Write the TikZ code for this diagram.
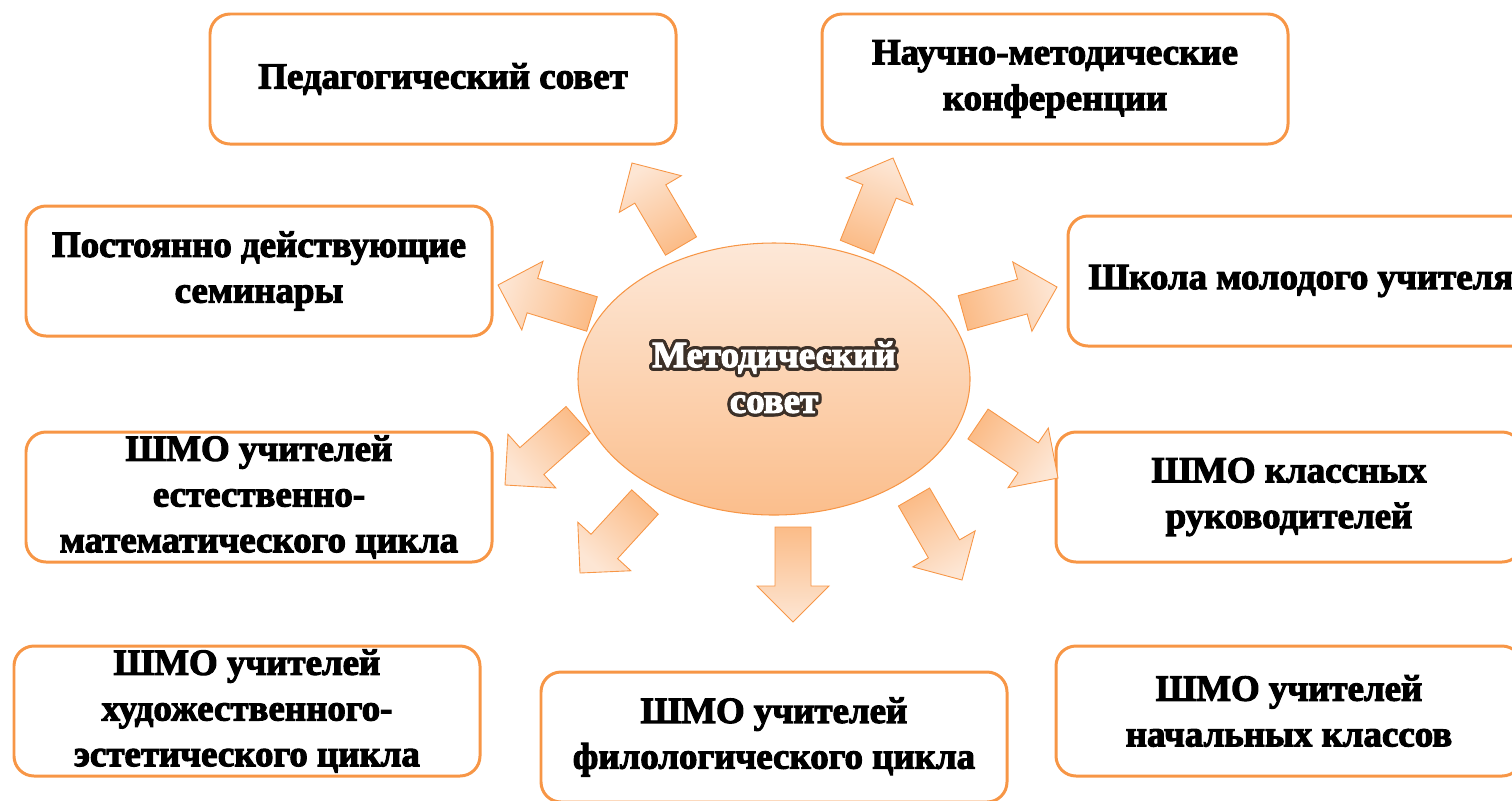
\documentclass[tikz,border=0pt]{standalone}
\usepackage{fontspec}
\setmainfont{Liberation Serif}
\newfontfamily\heavyfont[BoldFeatures={FakeBold=3}]{Liberation Serif}
\usepackage{contour}
\usepackage{tikz}
\usetikzlibrary{shapes.geometric, calc}

\contourlength{1.8pt}

\tikzset{
  box/.style={draw=boxorange, line width=1.7pt, rounded corners=0.4cm, fill=white,
    minimum width=9.32cm, minimum height=2.6cm, inner sep=0pt, align=center,
    font=\heavyfont\bfseries\fontsize{21}{26}\selectfont},
  centre/.style={ellipse, draw=boxorange, line width=0.6pt, top color=ellTop,
    bottom color=ellBottom, minimum width=7.84cm, minimum height=5.44cm, inner sep=0pt,
    align=center, text=white, font=\heavyfont\bfseries\fontsize{21}{26}\selectfont},
  blockarrow/.style={draw=boxorange, line width=0.5pt, line join=miter,
    top color=arrLight, bottom color=arrDark}
}

% block arrow from base #1 to tip #2
\newcommand{\blockarrow}[2]{%
  \pgfmathanglebetweenpoints{\pgfpointanchor{#1}{center}}{\pgfpointanchor{#2}{center}}%
  \pgfmathsetmacro{\shadeang}{\pgfmathresult-90}%
  \coordinate (neck) at ($(#2)!0.72cm!(#1)$);
  \draw[blockarrow, shading angle=\shadeang]
    ($(#1)!0.36cm!90:(#2)$) -- ($(neck)!0.36cm!90:(#2)$) -- ($(neck)!0.72cm!90:(#2)$)
    -- (#2) -- ($(neck)!0.72cm!-90:(#2)$) -- ($(neck)!0.36cm!-90:(#2)$)
    -- ($(#1)!0.36cm!-90:(#2)$) -- cycle;
}

\begin{document}
\begin{tikzpicture}[x=0.2mm, y=-0.2mm]
\definecolor{boxorange}{RGB}{247,150,70}
\definecolor{ellTop}{RGB}{253,232,216}
\definecolor{ellBottom}{RGB}{251,190,140}
\definecolor{arrLight}{RGB}{253,230,212}
\definecolor{arrDark}{RGB}{251,188,136}
\definecolor{glow}{RGB}{60,48,40}

\useasboundingbox (0,0) rectangle (1512,800);

% Boxes
\node[box] (ped) at (443,79) {Педагогический совет};
\node[box] (conf) at (1055,79) {Научно-методические\\конференции};
\node[box] (sem) at (259,271) {Постоянно действующие\\семинары};
\node[box] (young) at (1301,281) {Школа молодого учителя};
\node[box] (nat) at (259,497) {ШМО учителей\\естественно-\\математического цикла};
\node[box] (cls) at (1289,497) {ШМО классных\\руководителей};
\node[box] (art) at (247,711) {ШМО учителей\\художественного-\\эстетического цикла};
\node[box] (phil) at (774,737) {ШМО учителей\\филологического цикла};
\node[box] (prim) at (1289,711) {ШМО учителей\\начальных классов};

% Centre
\node[centre] (mc) at (774,379) {\contour{glow}{Методический}\\\contour{glow}{совет}};

% Arrows
\coordinate (b1) at (681,246); \coordinate (t1) at (632,163);
\coordinate (b2) at (857,247); \coordinate (t2) at (893,158);
\coordinate (b3) at (592,314); \coordinate (t3) at (498,285);
\coordinate (b4) at (963,313); \coordinate (t4) at (1057,287);
\coordinate (b5) at (578,420); \coordinate (t5) at (505,485);
\coordinate (b6) at (978,424); \coordinate (t6) at (1058,478);
\coordinate (b7) at (645,502); \coordinate (t7) at (580,573);
\coordinate (b8) at (793,527); \coordinate (t8) at (793,622);
\coordinate (b9) at (914,497); \coordinate (t9) at (962,580);
\foreach \i in {1,...,9} {\blockarrow{b\i}{t\i}}

\end{tikzpicture}
\end{document}
